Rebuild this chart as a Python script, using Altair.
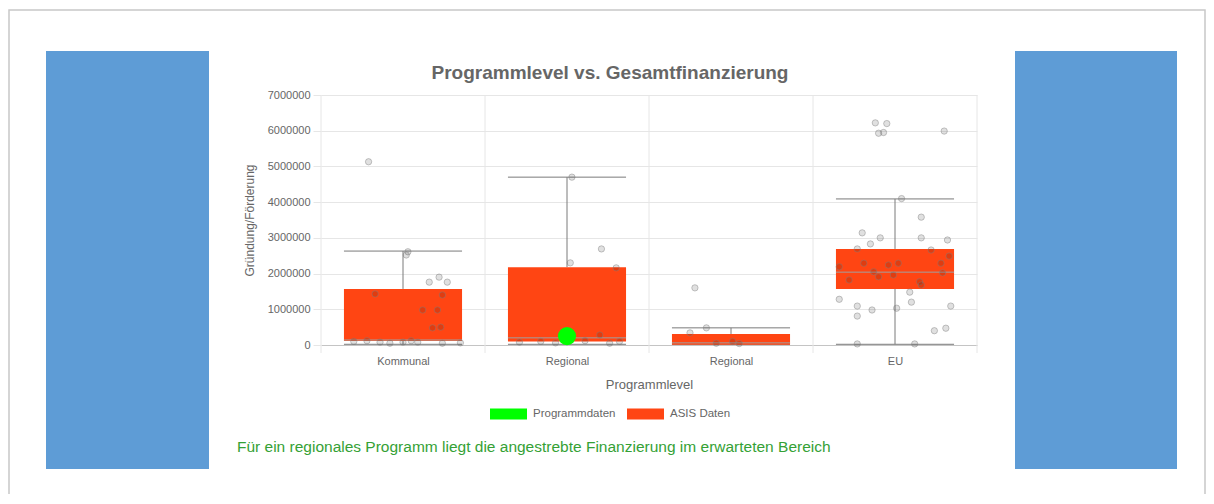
import json
import altair as alt
import pandas as pd

# ---------------- data ----------------
categories = ["Kommunal", "Regional", "Regional", "EU"]
whisker_low = [20000, 20000, 20000, 20000]
q1 = [110000, 100000, 10000, 1570000]
median = [140000, 200000, 60000, 2040000]
q3 = [1570000, 2180000, 310000, 2690000]
whisker_high = [2630000, 4700000, 480000, 4090000]

# ASIS single observations: category index, value, jitter (fraction of band)
pt_cat = ([0] * 21) + ([1] * 11) + ([2] * 6) + ([3] * 39)
pt_val = [
    5130000, 2610000, 2520000, 1760000, 1900000, 1760000, 1430000, 1400000,
    980000, 980000, 480000, 500000, 100000, 120000, 80000, 50000, 80000,
    120000, 80000, 50000, 60000,
    4700000, 2690000, 2300000, 2160000, 280000, 80000, 100000, 60000,
    120000, 50000, 100000,
    1600000, 480000, 340000, 50000, 40000, 100000,
    6220000, 6200000, 5930000, 5950000, 5990000, 4100000, 3580000, 3140000,
    3000000, 2830000, 3000000, 2940000, 2690000, 2660000, 2490000, 2190000,
    1820000, 2290000, 2050000, 1910000, 2240000, 1960000, 2290000, 1770000,
    1680000, 2290000, 2020000, 1480000, 1280000, 1200000, 1090000, 1090000,
    980000, 1030000, 810000, 400000, 470000, 30000, 30000,
]
pt_jit = [
    -0.21, 0.03, 0.02, 0.16, 0.22, 0.27, -0.17, 0.24,
    0.12, 0.21, 0.18, 0.23, -0.30, -0.22, -0.14, -0.08, 0.00,
    0.05, 0.09, 0.24, 0.35,
    0.03, 0.21, 0.02, 0.30, 0.20, -0.29, -0.16, -0.07,
    0.11, 0.26, 0.32,
    -0.22, -0.15, -0.25, -0.09, 0.05, 0.01,
    -0.12, -0.05, -0.10, -0.07, 0.30, 0.04, 0.16, -0.20,
    -0.09, -0.15, 0.16, 0.32, -0.23, 0.22, 0.33, -0.34,
    -0.28, -0.19, -0.13, -0.10, -0.04, -0.01, 0.02, 0.15,
    0.16, 0.28, 0.29, 0.09, -0.34, 0.10, -0.23, 0.34,
    -0.14, 0.01, -0.23, 0.24, 0.31, -0.23, 0.12,
]

# the programme under test
prog_cat = [1]
prog_val = [250000]

y_ticks = [0, 1000000, 2000000, 3000000, 4000000, 5000000, 6000000, 7000000]
boundaries = [0, 1, 2, 3, 4]
legend_labels = ["Programmdaten", "ASIS Daten"]
legend_colors = ["#00FF00", "#FF4513"]

title_text = "Programmlevel vs. Gesamtfinanzierung"
y_title = "Gründung/Förderung"
x_title = "Programmlevel"
note_text = "Für ein regionales Programm liegt die angestrebte Finanzierung im erwarteten Bereich"

# ---------------- tables ----------------
box_df = pd.DataFrame({
    "idx": list(range(len(categories))),
    "cat": categories,
    "lo": whisker_low, "q1": q1, "med": median, "q3": q3, "hi": whisker_high,
    "series": "ASIS Daten",
})
pts_df = pd.DataFrame({"idx": pt_cat, "val": pt_val, "jit": pt_jit})
prog_df = pd.DataFrame({"idx": prog_cat, "val": prog_val, "series": "Programmdaten"})
bound_df = pd.DataFrame({"b": boundaries})
one = pd.DataFrame({"a": [0]})

W, H = 656, 250
xscale = alt.Scale(domain=[0, 4], nice=False, zero=False)
yscale = alt.Scale(domain=[0, 7000000], nice=False)
cscale = alt.Scale(domain=legend_labels, range=legend_colors)

legend = alt.Legend(
    orient="none", legendX=169, legendY=300, direction="horizontal", title=None,
    symbolType="M-1,-0.3H1V0.3H-1Z", symbolSize=1369, symbolStrokeWidth=0,
    symbolOpacity=1, labelFontSize=11.5, labelColor="#666666", labelOffset=6,
    columnPadding=11,
)

label_expr = json.dumps(categories) + "[floor(datum.value)]"
x_axis = alt.Axis(
    values=[0.5, 1.5, 2.5, 3.5], labelExpr=label_expr, ticks=False, grid=False,
    domain=True, domainColor="#c4c4c4", labelFontSize=11, labelColor="#666666",
    labelPadding=10, labelOverlap=False, title=x_title, titleFontSize=13,
    titleFontWeight="normal", titleColor="#666666", titlePadding=12,
)
y_axis = alt.Axis(
    values=y_ticks, tickCount=8, format="d", labelFontSize=11,
    labelColor="#666666", labelOverlap=False, tickSize=8, tickColor="#e6e6e6",
    gridColor="#e6e6e6", domain=False, labelPadding=3, title=y_title,
    titleFontSize=12, titleFontWeight="normal", titleColor="#666666",
    titlePadding=11,
)


def Y(field):
    return alt.Y(field, scale=yscale, axis=y_axis)


# ---------------- decorations ----------------
card = alt.Chart(one).mark_rect(fillOpacity=0, stroke="#c8c8c8", strokeWidth=1.5).encode(
    x=alt.value(-312), x2=alt.value(884), y=alt.value(-85), y2=alt.value(520))
blue_left = alt.Chart(one).mark_rect(color="#5E9CD6").encode(
    x=alt.value(-275), x2=alt.value(-112), y=alt.value(-44), y2=alt.value(374))
blue_right = alt.Chart(one).mark_rect(color="#5E9CD6").encode(
    x=alt.value(694), x2=alt.value(856), y=alt.value(-44), y2=alt.value(374))

title = alt.Chart(one).mark_text(
    text=title_text, align="center", baseline="middle", fontSize=19,
    fontWeight="bold", color="#666666").encode(x=alt.value(289), y=alt.value(-22))

vgrid = alt.Chart(bound_df).mark_rule(color="#e6e6e6", strokeWidth=1).encode(
    x=alt.X("b:Q", scale=xscale, axis=x_axis), y=alt.value(0), y2=alt.value(H + 8))

base = alt.Chart(box_df).transform_calculate(
    left="datum.idx + 0.14", right="datum.idx + 0.86", mid="datum.idx + 0.5")

whisk_up = base.mark_rule(color="#7a7a7a", strokeWidth=1).encode(
    x=alt.X("mid:Q", scale=xscale), y=Y("q3:Q"), y2="hi:Q")
whisk_dn = base.mark_rule(color="#7a7a7a", strokeWidth=1).encode(
    x=alt.X("mid:Q", scale=xscale), y=Y("lo:Q"), y2="q1:Q")
cap_hi = base.mark_rule(color="#7a7a7a", strokeWidth=1).encode(
    x=alt.X("left:Q", scale=xscale), x2="right:Q", y=Y("hi:Q"))
cap_lo = base.mark_rule(color="#7a7a7a", strokeWidth=1).encode(
    x=alt.X("left:Q", scale=xscale), x2="right:Q", y=Y("lo:Q"))
box = base.mark_rect(opacity=1).encode(
    x=alt.X("left:Q", scale=xscale), x2="right:Q",
    y=Y("q1:Q"), y2="q3:Q",
    color=alt.Color("series:N", scale=cscale, legend=legend))
med = base.mark_rule(color="#a0a0a0", strokeWidth=1).encode(
    x=alt.X("left:Q", scale=xscale), x2="right:Q", y=Y("med:Q"))

points = alt.Chart(pts_df).transform_calculate(
    px="datum.idx + 0.5 + datum.jit").mark_point(
    filled=True, fill="#000000", fillOpacity=0.12, stroke="#808080",
    strokeOpacity=0.45, strokeWidth=1, size=40, shape="circle").encode(
    x=alt.X("px:Q", scale=xscale), y=Y("val:Q"))

prog = alt.Chart(prog_df).transform_calculate(px="datum.idx + 0.5").mark_circle(
    size=330, opacity=1).encode(
    x=alt.X("px:Q", scale=xscale), y=Y("val:Q"),
    color=alt.Color("series:N", scale=cscale, legend=legend))

note = alt.Chart(one).mark_text(
    text=note_text, align="left", baseline="middle", fontSize=15.5,
    color="#35a135").encode(x=alt.value(-84), y=alt.value(352))

chart = alt.layer(
    card, blue_left, blue_right, title, vgrid, whisk_up, whisk_dn, cap_hi, cap_lo,
    box, med, points, prog, note,
).properties(
    width=W, height=H,
    padding={"left": 313, "top": 87, "right": 229, "bottom": 149},
    autosize="none",
).configure(font="Liberation Sans", background="white").configure_view(stroke=None)

chart.save("out.html", embed_options={"renderer": "svg", "actions": False})
